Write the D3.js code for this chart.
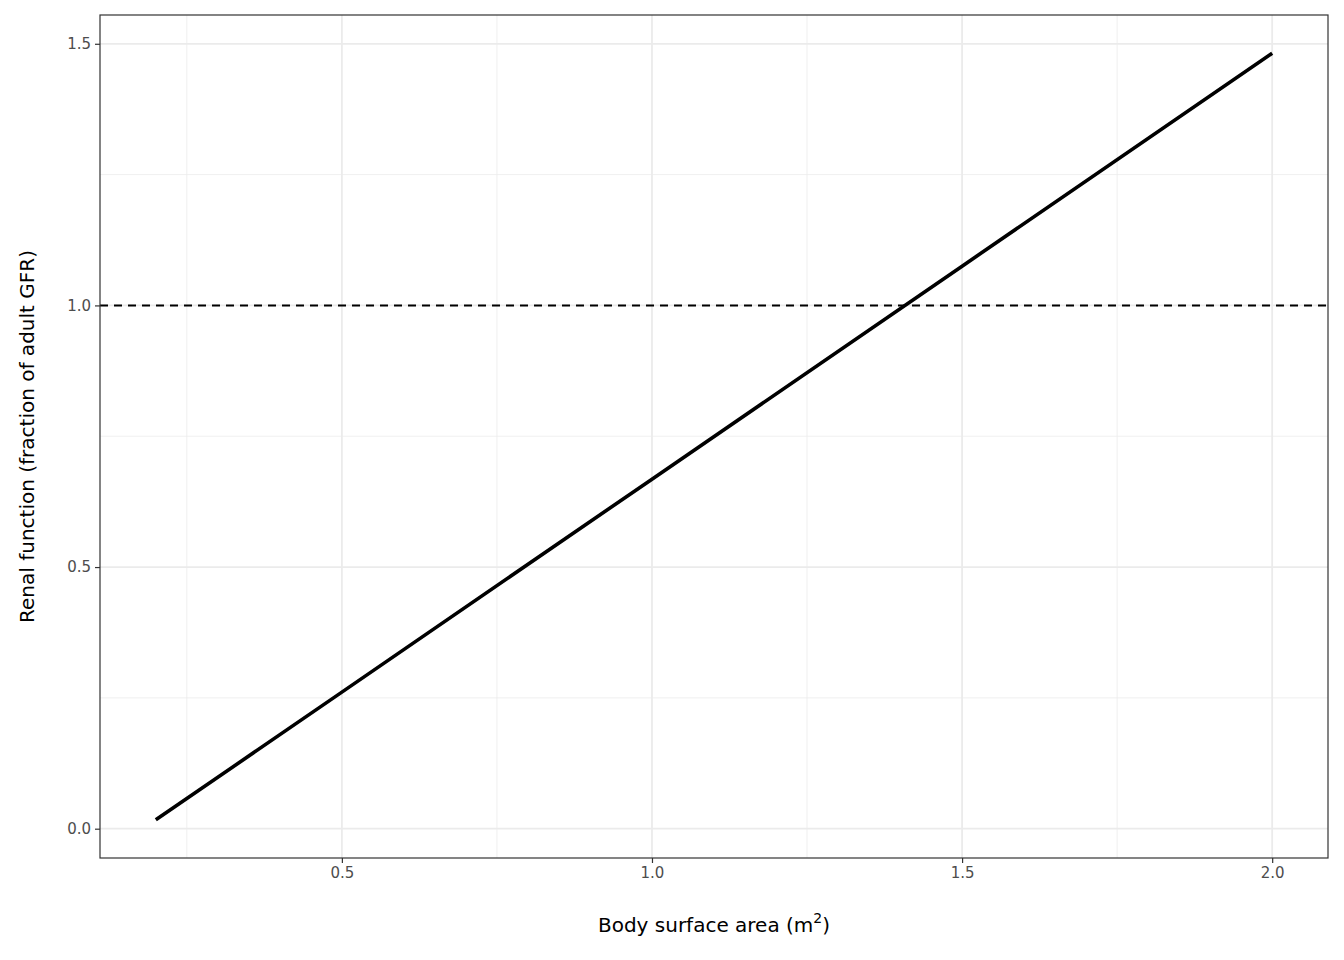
<!DOCTYPE html>
<html>
<head>
<meta charset="utf-8">
<script src="https://cdn.jsdelivr.net/npm/d3@7"></script>
<style>
body { margin: 0; background: #fff; }
text { font-family: "DejaVu Sans", sans-serif; }
</style>
</head>
<body>
<svg id="chart" width="1344" height="960"></svg>
<script>
// Body surface area (m^2) vs renal function
var bsa = [0.2, 0.5, 1.0, 1.5, 2.0];
var renal = [0.017, 0.261, 0.668, 1.075, 1.482];
var xTicks = [0.5, 1.0, 1.5, 2.0];
var xMinor = [0.25, 0.75, 1.25, 1.75];
var yTicks = [0.0, 0.5, 1.0, 1.5];
var yMinor = [0.25, 0.75, 1.25];
var refLine = 1.0;

(function () {
    var svg = d3.select("#chart");
    var pLeft = 100, pRight = 1328, pTop = 15, pBottom = 858;

    var x = d3.scaleLinear().domain([0.11, 2.09]).range([pLeft, pRight]);
    var y = d3.scaleLinear().domain([-0.056, 1.555]).range([pBottom, pTop]);

    var g = svg.append("g");

    // minor grid
    g.selectAll(".xmin").data(xMinor).enter().append("line")
        .attr("x1", d => x(d)).attr("x2", d => x(d)).attr("y1", pTop).attr("y2", pBottom)
        .attr("stroke", "#ebebeb").attr("stroke-width", 0.8);
    g.selectAll(".ymin").data(yMinor).enter().append("line")
        .attr("y1", d => y(d)).attr("y2", d => y(d)).attr("x1", pLeft).attr("x2", pRight)
        .attr("stroke", "#ebebeb").attr("stroke-width", 0.8);
    // major grid
    g.selectAll(".xmaj").data(xTicks).enter().append("line")
        .attr("x1", d => x(d)).attr("x2", d => x(d)).attr("y1", pTop).attr("y2", pBottom)
        .attr("stroke", "#ebebeb").attr("stroke-width", 1.8);
    g.selectAll(".ymaj").data(yTicks).enter().append("line")
        .attr("y1", d => y(d)).attr("y2", d => y(d)).attr("x1", pLeft).attr("x2", pRight)
        .attr("stroke", "#ebebeb").attr("stroke-width", 1.8);

    // reference line
    g.append("line")
        .attr("x1", pLeft).attr("x2", pRight).attr("y1", y(refLine)).attr("y2", y(refLine))
        .attr("stroke", "#000").attr("stroke-width", 2).attr("stroke-dasharray", "8,6");

    // data line
    var pts = bsa.map((d, i) => [d, renal[i]]);
    g.append("path")
        .attr("d", d3.line().x(d => x(d[0])).y(d => y(d[1]))(pts))
        .attr("fill", "none").attr("stroke", "#000").attr("stroke-width", 3.6);

    // panel border
    g.append("rect").attr("x", pLeft).attr("y", pTop).attr("width", pRight - pLeft).attr("height", pBottom - pTop)
        .attr("fill", "none").attr("stroke", "#333").attr("stroke-width", 1.2);

    // axes
    var xAxis = svg.append("g").attr("transform", "translate(0," + pBottom + ")")
        .call(d3.axisBottom(x).tickValues(xTicks).tickFormat(d3.format(".1f")).tickSize(5).tickPadding(4));
    var yAxis = svg.append("g").attr("transform", "translate(" + pLeft + ",0)")
        .call(d3.axisLeft(y).tickValues(yTicks).tickFormat(d3.format(".1f")).tickSize(5).tickPadding(4));
    [xAxis, yAxis].forEach(a => {
        a.select(".domain").remove();
        a.selectAll(".tick line").attr("stroke", "#333").attr("stroke-width", 1.2);
        a.selectAll(".tick text").attr("fill", "#4d4d4d").style("font-size", "15px")
            .style("font-family", "DejaVu Sans, sans-serif");
    });

    // titles
    var xt = svg.append("text").attr("x", (pLeft + pRight) / 2).attr("y", 932)
        .attr("text-anchor", "middle").style("font-size", "20px").attr("fill", "#000");
    xt.append("tspan").text("Body surface area (m");
    xt.append("tspan").text("2").attr("dy", -9).style("font-size", "14px");
    xt.append("tspan").text(")").attr("dy", 9);

    svg.append("text").attr("transform", "translate(34," + (pTop + pBottom) / 2 + ") rotate(-90)")
        .attr("text-anchor", "middle").style("font-size", "20px").attr("fill", "#000")
        .text("Renal function (fraction of adult GFR)");
})();
</script>
</body>
</html>
